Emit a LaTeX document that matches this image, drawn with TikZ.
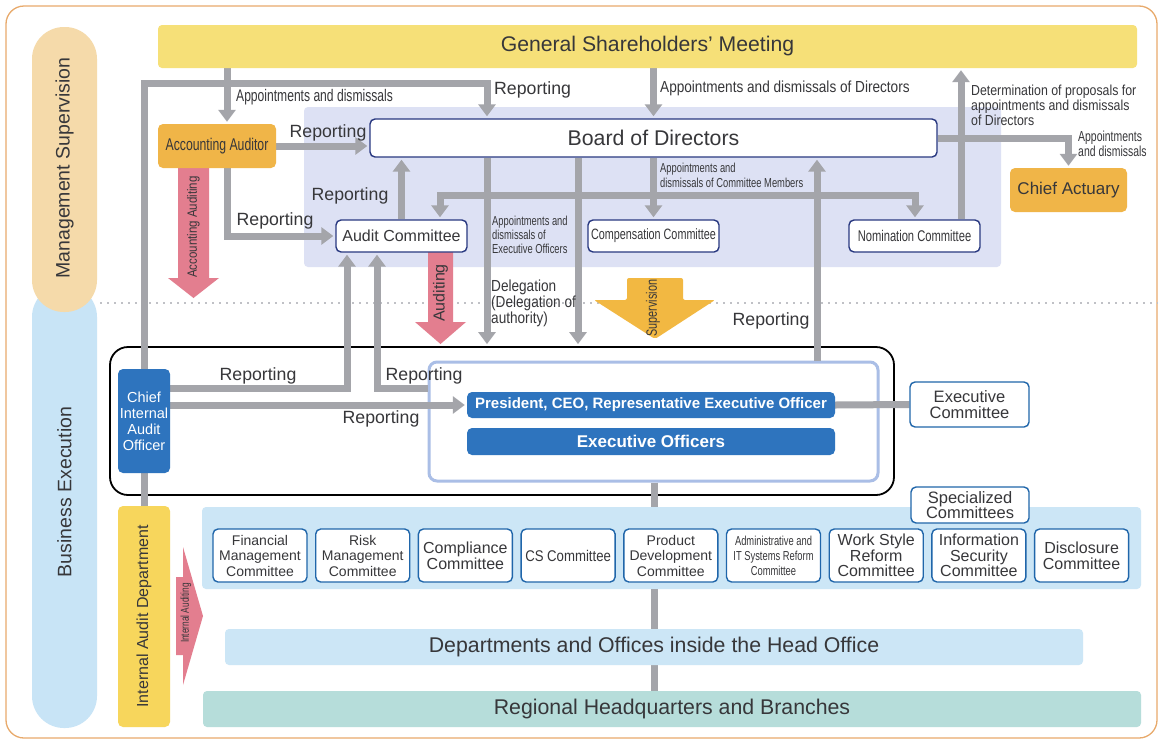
\documentclass[tikz,border=0pt]{standalone}
\usepackage{fontspec}
\setmainfont{Liberation Sans}
\newfontfamily\condfont[FakeStretch=0.85]{Liberation Sans}
\newfontfamily\narrowfont[FakeStretch=0.72]{Liberation Sans}
\usetikzlibrary{arrows.meta,positioning}
\newcommand{\fsz}[2]{\fontsize{#1}{#2}\selectfont}

\definecolor{frameorange}{RGB}{232,170,108}
\definecolor{pillorange}{RGB}{245,218,170}
\definecolor{pillblue}{RGB}{200,228,246}
\definecolor{gsmyellow}{RGB}{246,224,120}
\definecolor{iadyellow}{RGB}{247,214,92}
\definecolor{boardlav}{RGB}{221,225,244}
\definecolor{boardnavy}{RGB}{40,56,128}
\definecolor{auditorange}{RGB}{240,181,72}
\definecolor{arrowgray}{RGB}{164,165,170}
\definecolor{dotgray}{RGB}{192,193,198}
\definecolor{auditred}{RGB}{227,126,143}
\definecolor{supyellow}{RGB}{242,184,66}
\definecolor{execblue}{RGB}{46,116,190}
\definecolor{frameblue}{RGB}{170,190,230}
\definecolor{bandblue}{RGB}{204,230,246}
\definecolor{comblue}{RGB}{32,102,170}
\definecolor{regteal}{RGB}{182,221,218}
\definecolor{labelgray}{RGB}{55,55,58}

\pgfdeclarelayer{background}
\pgfdeclarelayer{connect}
\pgfsetlayers{background,connect,main}

\tikzset{
  orgbox/.style={rounded corners=5pt, inner sep=1pt, align=center, text=labelgray},
  boardbox/.style={orgbox, draw=boardnavy, line width=1.4pt, fill=white},
  orangebox/.style={orgbox, fill=auditorange},
  execbox/.style={orgbox, fill=execblue, text=white},
  combox/.style={orgbox, draw=comblue, line width=1.4pt, fill=white, minimum width=94pt, minimum height=53pt},
  bandbox/.style={orgbox, rounded corners=4pt},
  pill/.style={rounded corners=32pt, minimum width=65pt, inner sep=0pt},
  pilltext/.style={rotate=90, text=labelgray, font=\fsz{19.5}{19.5}},
  garrow/.style={draw=arrowgray, line width=7pt, shorten >=2pt, -{Triangle[width=17pt,length=12pt]}},
  gline/.style={draw=arrowgray, line width=7pt},
  lbl/.style={inner sep=0pt, text=labelgray, align=left},
  rep/.style={lbl, font=\fsz{17.7}{17.7}},
  arrowtext/.style={rotate=90, inner sep=0pt, text=labelgray}
}

\begin{document}
\begin{tikzpicture}[x=1pt,y=-1pt]
\useasboundingbox (0,0) rectangle (1161,742);

% frame, bands and big arrows
\begin{pgfonlayer}{background}
\fill[white] (0,0) rectangle (1161,742);
\draw[frameorange, line width=1.3pt, rounded corners=18pt] (6,6) rectangle (1157,738);
\node[pill, fill=pillblue, minimum height=443pt] (bizpill) at (64.5,506.5) {};
\node[pill, fill=pillorange, minimum height=285pt] (mgmtpill) at (64.5,169.5) {};
\draw[dotgray, line width=2pt, dash pattern=on 2pt off 5pt] (100,303) -- (1158,303);
\node[bandbox, fill=boardlav, minimum width=697pt, minimum height=160pt] (boardarea) at (652.5,187) {};
\node[draw=black, line width=1.8pt, rounded corners=18pt, minimum width=784pt, minimum height=148pt] (bizarea) at (502,421) {};
\node[draw=frameblue, fill=white, line width=3pt, rounded corners=8pt, minimum width=449pt, minimum height=119pt] (execframe) at (653.5,421.5) {};
\node[bandbox, fill=bandblue, minimum width=939pt, minimum height=82pt] (band) at (671.5,548) {};
\fill[auditred] (178,168) -- (209,168) -- (209,278) -- (219,278) -- (193.5,298) -- (168,278) -- (178,278) -- cycle;
\fill[auditred] (428,252) -- (453,252) -- (453,322) -- (466,322) -- (440.5,344) -- (415,322) -- (428,322) -- cycle;
\fill[supyellow, rounded corners=2pt] (627,278) -- (683,278) -- (683,300) -- (715,300) -- (655,339) -- (594,300) -- (627,300) -- cycle;
\fill[auditred] (176,577) -- (183,577) -- (183,547) -- (203,616) -- (183,685) -- (183,655) -- (176,655) -- cycle;
\end{pgfonlayer}

\node[pilltext] (mgmtlabel) at (64.5,168) {Management Supervision};
\node[pilltext] (bizlabel) at (64.5,492) {Business Execution};

% supervision side
\node[bandbox, fill=gsmyellow, minimum width=979pt, minimum height=43pt, font=\fsz{21.2}{21.2}] (gsm) at (647.5,46.5) {General Shareholders' Meeting};
\node[boardbox, minimum width=567pt, minimum height=38pt, font=\fsz{21.3}{21.3}] (bod) at (653.5,138) {Board of Directors};
\node[orangebox, minimum width=118pt, minimum height=44pt, font=\narrowfont\fsz{17}{17}] (aa) at (217,146) {Accounting Auditor};
\node[orangebox, minimum width=117pt, minimum height=44pt, font=\fsz{17}{17}] (ca) at (1068.5,190) {Chief Actuary};
\node[boardbox, minimum width=131pt, minimum height=32pt, font=\fsz{16}{16}] (audc) at (401.5,236) {Audit Committee};
\node[boardbox, minimum width=131pt, minimum height=32pt, font=\narrowfont\fsz{15}{15}] (comp) at (653.5,236) {Compensation Committee};
\node[boardbox, minimum width=131pt, minimum height=32pt, font=\narrowfont\fsz{15.5}{15.5}] (nomc) at (914.5,236) {Nomination Committee};

% execution side
\node[execbox, minimum width=368pt, minimum height=26pt, font=\bfseries\fsz{15}{15}] (pres) at (651,405) {President, CEO, Representative Executive Officer};
\node[execbox, minimum width=368pt, minimum height=27pt, font=\bfseries\fsz{17}{17}] (eo) at (651,441.5) {Executive Officers};
\node[combox, minimum width=119pt, minimum height=45pt, font=\fsz{16.5}{16}] (exco) at (969.5,404.5) {Executive\\Committee};
\node[execbox, minimum width=52pt, minimum height=104pt, font=\fsz{14.5}{16}] (ciao) at (144,421) {Chief\\Internal\\Audit\\Officer};
\node[orgbox, fill=iadyellow, minimum width=52pt, minimum height=221pt, font=\fsz{16}{16}] (iad) at (144,616.5) {\rotatebox{90}{Internal Audit Department}};
\node[combox, minimum width=118pt, minimum height=36pt, font=\fsz{16.5}{15.5}] (spec) at (970,505) {Specialized\\Committees};
\node[combox, font=\fsz{14}{15.5}] (fmc) at (260,555.5) {Financial\\Management\\Committee};
\node[combox, font=\fsz{14}{15.5}] (rmc) at (362.7,555.5) {Risk\\Management\\Committee};
\node[combox, font=\fsz{16}{16}] (coc) at (465.4,555.5) {Compliance\\Committee};
\node[combox, font=\condfont\fsz{15.5}{15.5}] (csc) at (568.1,555.5) {CS Committee};
\node[combox, font=\fsz{14}{15.5}] (pdc) at (670.8,555.5) {Product\\Development\\Committee};
\node[combox, font=\narrowfont\fsz{13}{15}] (asc) at (773.5,555.5) {Administrative and\\IT Systems Reform\\Committee};
\node[combox, font=\fsz{16}{15.5}] (wsc) at (876.2,555.5) {Work Style\\Reform\\Committee};
\node[combox, font=\fsz{16}{15.5}] (isc) at (978.9,555.5) {Information\\Security\\Committee};
\node[combox, font=\fsz{16}{16}] (dsc) at (1081.6,555.5) {Disclosure\\Committee};
\node[bandbox, fill=bandblue, minimum width=858pt, minimum height=36pt, font=\fsz{21.3}{21.3}] (depts) at (654,647) {Departments and Offices inside the Head Office};
\node[bandbox, fill=regteal, minimum width=938pt, minimum height=36pt, font=\fsz{21.3}{21.3}] (reg) at (672,709) {Regional Headquarters and Branches};

% connectors
\begin{pgfonlayer}{connect}
\draw[garrow] (227,0 |- gsm.south) -- (227,0 |- aa.north);
\draw[garrow] (ciao.north) |- (487,83) -- (487,0 |- bod.north);
\draw[garrow] (bod.north |- gsm.south) -- (bod.north);
\draw[garrow] (961,0 |- nomc.north) -- (961,0 |- gsm.south);
\draw[garrow] (bod.east) -| (ca.north);
\draw[garrow] (aa.east) -- (aa.east -| bod.west);
\draw[garrow] (227,0 |- aa.south) |- (audc.west);
\draw[garrow] (audc.north) -- (audc.north |- bod.south);
\coordinate (cmbar) at (654,195);
\draw[garrow] (bod.south) -- (comp.north);
\draw[garrow] (cmbar) -| (440,0 |- audc.north);
\draw[garrow] (cmbar) -| (915,0 |- nomc.north);
\draw[garrow] (487,0 |- bod.south) -- (487,0 |- bizarea.north);
\draw[garrow] (578,0 |- bod.south) -- (578,0 |- bizarea.north);
\draw[garrow] (817,0 |- execframe.north) -- (817,0 |- bod.south);
\draw[garrow] (ciao.east |- 0,388) -| (347,0 |- audc.south);
\draw[garrow] (execframe.west |- 0,388) -| (377,0 |- audc.south);
\draw[garrow] (ciao.east |- pres.west) -- (pres.west);
\draw[gline] (pres.east) -- (exco.west);
\draw[gline] (ciao.south) -- (iad.north);
\draw[gline] (depts.north |- execframe.south) -- (depts.north |- band.north);
\draw[gline] (depts.north |- band.south) -- (depts.north);
\draw[gline] (depts.south) -- (depts.south |- reg.north);
\end{pgfonlayer}

% labels
\node[lbl, anchor=west, font=\narrowfont\fsz{16.8}{16.8}] (lbappaa) at (236,97) {Appointments and dismissals};
\node[rep, anchor=west] (lbrepbod) at (494,90) {Reporting};
\node[lbl, anchor=west, font=\condfont\fsz{16}{16}] (lbappdir) at (660,88) {Appointments and dismissals of Directors};
\node[lbl, anchor=west, font=\condfont\fsz{14.5}{15}] (lbdet) at (971,105) {Determination of proposals for\\appointments and dismissals\\of Directors};
\node[lbl, anchor=west, font=\narrowfont\fsz{14.5}{15}] (lbappca) at (1078,143.5) {Appointments\\and dismissals};
\node[rep] (lbrepaa) at (328,133) {Reporting};
\node[rep] (lbrepac) at (350,196) {Reporting};
\node[rep] (lbrepaud) at (275,221) {Reporting};
\node[lbl, anchor=west, font=\narrowfont\fsz{13}{15}] (lbappcm) at (660,175) {Appointments and\\dismissals of Committee Members};
\node[lbl, anchor=west, font=\narrowfont\fsz{13}{14}] (lbappeo) at (492,235) {Appointments and\\dismissals of\\Executive Officers};
\node[lbl, anchor=west, font=\condfont\fsz{16}{16}] (lbdeleg) at (491,303) {Delegation\\(Delegation of\\authority)};
\node[rep] (lbrepexec) at (771,321) {Reporting};
\node[rep] (lbrepciao) at (258,376) {Reporting};
\node[rep] (lbrepframe) at (424,376) {Reporting};
\node[rep] (lbreppres) at (381,419) {Reporting};
\node[arrowtext, font=\condfont\fsz{13.5}{13.5}] (lbaccaud) at (193.5,227) {Accounting Auditing};
\node[arrowtext, font=\fsz{16}{16}] (lbaud) at (440.5,293) {Auditing};
\node[arrowtext, font=\narrowfont\fsz{15}{15}] (lbsup) at (653,308) {Supervision};
\node[arrowtext, font=\narrowfont\fsz{11.5}{11.5}] (lbintaud) at (186,613) {Internal Auditing};
\end{tikzpicture}
\end{document}
